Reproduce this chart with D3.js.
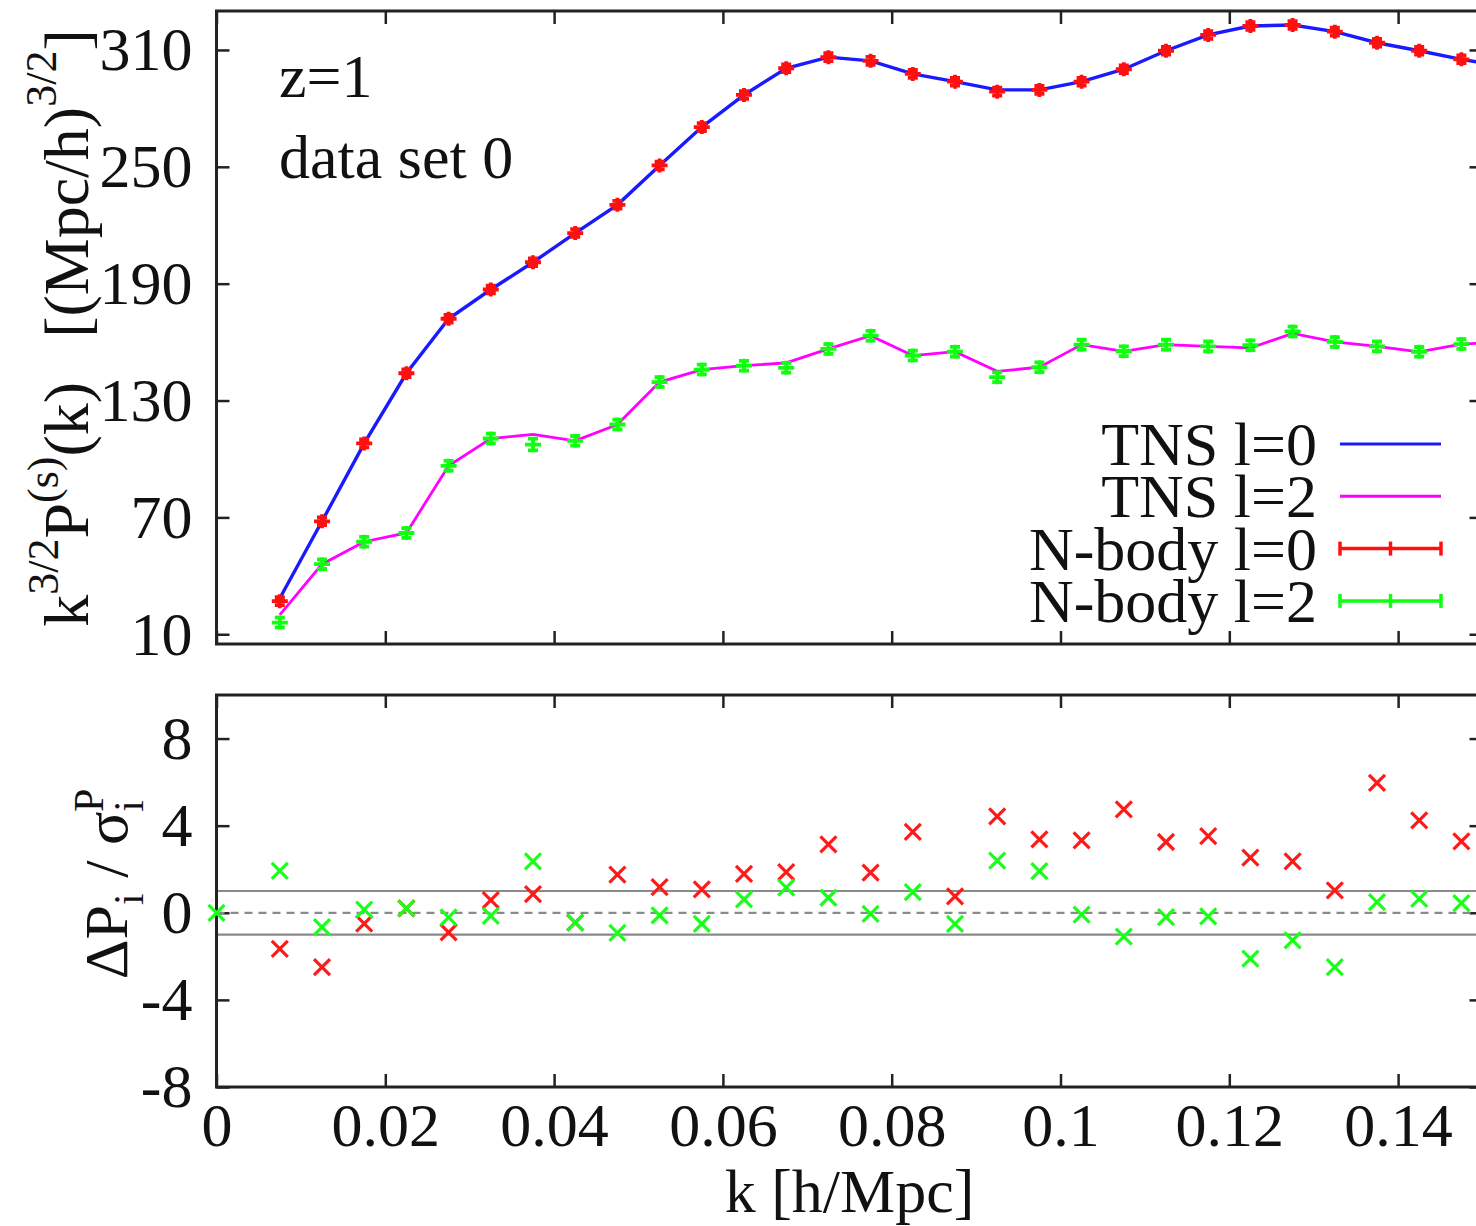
<!DOCTYPE html>
<html>
<head>
<meta charset="utf-8">
<script src="https://cdn.jsdelivr.net/npm/d3@7"></script>
<style>
  body { margin: 0; background: #fff; }
  svg { background: #fff; }
  svg text { font-family: "Liberation Serif", "DejaVu Serif", serif; fill: #111; }
</style>
</head>
<body>
<svg width="1476" height="1226"></svg>
<script>
// k bins (h/Mpc)
const kBins = [0.0075, 0.0125, 0.0175, 0.0225, 0.0275, 0.0325, 0.0375, 0.0425, 0.0475, 0.0525,
  0.0575, 0.0625, 0.0675, 0.0725, 0.0775, 0.0825, 0.0875, 0.0925, 0.0975, 0.1025,
  0.1075, 0.1125, 0.1175, 0.1225, 0.1275, 0.1325, 0.1375, 0.1425, 0.1475];

// TNS model, one extra bin past the right edge of the frame
const kTNS = [0.0075, 0.0125, 0.0175, 0.0225, 0.0275, 0.0325, 0.0375, 0.0425, 0.0475, 0.0525,
  0.0575, 0.0625, 0.0675, 0.0725, 0.0775, 0.0825, 0.0875, 0.0925, 0.0975, 0.1025,
  0.1075, 0.1125, 0.1175, 0.1225, 0.1275, 0.1325, 0.1375, 0.1425, 0.1475, 0.1525];
const tnsL0 = [28.5, 68, 108, 144, 172, 187, 201, 216, 230.5, 250.7,
  270.4, 286.9, 300.6, 306.3, 304.4, 297.7, 293.7, 289.5, 289.5, 293.7,
  300.1, 309.6, 317.7, 322.3, 322.8, 319.4, 313.7, 309.6, 305.2, 301.5];
const tnsL2 = [20, 46, 57.5, 62, 96.5, 110.5, 112.6, 109.3, 117.7, 139.5,
  145.9, 147.9, 149.3, 156.5, 163.3, 153.1, 155.1, 145, 147.1, 158.7,
  155.3, 158.7, 157.8, 157, 164.5, 160.1, 157.8, 155, 159, 160];

// N-body multipoles with errors
const nbodyL0 = [27, 68, 108, 144, 172, 187, 201, 216, 230.5, 250.7,
  270.4, 286.9, 300.6, 306.3, 304.4, 297.7, 293.7, 288.6, 289.5, 293.7,
  300.1, 309.6, 317.7, 322.3, 322.8, 319.4, 313.7, 309.6, 305.2];
const errL0 = [2, 2, 2, 2, 2, 2, 2, 2, 2, 2,
  2, 2, 2, 2, 2, 2, 2, 2, 2, 2,
  2, 2, 2, 2, 2, 2, 2, 2, 2];
const nbodyL2 = [16, 46, 57.5, 62, 96.5, 110.5, 107.4, 109.3, 117.7, 139.5,
  145.9, 147.9, 146.8, 156.5, 163.3, 153.1, 155.1, 142, 147.1, 158.7,
  155.3, 158.7, 157.8, 158.4, 165.5, 160.1, 157.8, 155, 159];
const errL2 = [2.5, 2.5, 2.5, 2.5, 2.5, 2.5, 3, 2.5, 2.5, 2.5,
  2.5, 2.5, 2.5, 2.5, 2.5, 2.5, 2.5, 2.5, 2.5, 2.5,
  2.5, 2.5, 2.5, 2.5, 2.5, 2.5, 2.5, 2.5, 2.5];

// residuals Delta P / sigma
const kRes = [0, 0.0075, 0.0125, 0.0175, 0.0225, 0.0275, 0.0325, 0.0375, 0.0425, 0.0475, 0.0525,
  0.0575, 0.0625, 0.0675, 0.0725, 0.0775, 0.0825, 0.0875, 0.0925, 0.0975, 0.1025,
  0.1075, 0.1125, 0.1175, 0.1225, 0.1275, 0.1325, 0.1375, 0.1425, 0.1475];
const resL0 = [null, -1.66, -2.5, -0.5, 0.2, -0.9, 0.58, 0.86, -0.45, 1.75, 1.18,
  1.07, 1.79, 1.87, 3.14, 1.84, 3.71, 0.75, 4.43, 3.37, 3.32,
  4.75, 3.25, 3.52, 2.53, 2.36, 1.03, 5.96, 4.24, 3.28];
const resL2 = [0, 1.92, -0.66, 0.14, 0.2, -0.21, -0.14, 2.36, -0.45, -0.92, -0.12,
  -0.51, 0.61, 1.15, 0.69, -0.05, 0.95, -0.51, 2.4, 1.91, -0.09,
  -1.09, -0.2, -0.17, -2.11, -1.27, -2.5, 0.49, 0.64, 0.44];

const xTicks = [0, 0.02, 0.04, 0.06, 0.08, 0.1, 0.12, 0.14];
const yTopTicks = [10, 70, 130, 190, 250, 310];
const yBotTicks = [-8, -4, 0, 4, 8];
const legendLabels = ["TNS l=0", "TNS l=2", "N-body l=0", "N-body l=2"];
const legendColors = ["#1a1aff", "#ff00ff", "#ff1010", "#10ff10"];

const svg = d3.select("svg");

const x = d3.scaleLinear().domain([0, 0.15]).range([216.5, 1482.5]);
const yTop = d3.scaleLinear().domain([5, 330]).range([644, 11]);
const yBot = d3.scaleLinear().domain([-8, 10]).range([1087, 695]);

const axisColor = "#222";
const fs = 62;

const defs = svg.append("defs");
defs.append("clipPath").attr("id", "clipTop").append("rect")
	.attr("x", x.range()[0]).attr("y", yTop.range()[1])
	.attr("width", x.range()[1] - x.range()[0]).attr("height", yTop.range()[0] - yTop.range()[1]);

function styleAxis(g) {
	g.select(".domain").remove();
	g.selectAll(".tick line").attr("stroke", axisColor).attr("stroke-width", 2.5);
	g.selectAll(".tick text").attr("font-size", fs).attr("font-family", "Liberation Serif, serif").attr("fill", "#111");
}

function frame(y) {
	const [y0, y1] = y.range();
	svg.append("rect")
		.attr("x", x.range()[0]).attr("y", y1)
		.attr("width", x.range()[1] - x.range()[0]).attr("height", y0 - y1)
		.attr("fill", "none").attr("stroke", axisColor).attr("stroke-width", 3);
}

// ---- top panel axes
svg.append("g").attr("transform", `translate(${x.range()[0]},0)`)
	.call(d3.axisLeft(yTop).tickValues(yTopTicks).tickSize(-13).tickPadding(24).tickFormat(d => String(d)))
	.call(styleAxis);
svg.append("g").attr("transform", `translate(${x.range()[1]},0)`)
	.call(d3.axisRight(yTop).tickValues(yTopTicks).tickSize(-13).tickFormat(""))
	.call(styleAxis);
svg.append("g").attr("transform", `translate(0,${yTop.range()[0]})`)
	.call(d3.axisBottom(x).tickValues(xTicks).tickSize(-13).tickFormat(""))
	.call(styleAxis);
svg.append("g").attr("transform", `translate(0,${yTop.range()[1]})`)
	.call(d3.axisTop(x).tickValues(xTicks).tickSize(-13).tickFormat(""))
	.call(styleAxis);
frame(yTop);

// ---- bottom panel axes
svg.append("g").attr("transform", `translate(${x.range()[0]},0)`)
	.call(d3.axisLeft(yBot).tickValues(yBotTicks).tickSize(-13).tickPadding(24).tickFormat(d => String(d)))
	.call(styleAxis);
svg.append("g").attr("transform", `translate(${x.range()[1]},0)`)
	.call(d3.axisRight(yBot).tickValues(yBotTicks).tickSize(-13).tickFormat(""))
	.call(styleAxis);
svg.append("g").attr("transform", `translate(0,${yBot.range()[0]})`)
	.call(d3.axisBottom(x).tickValues(xTicks).tickSize(-13).tickPadding(15)
		.tickFormat(d => d === 0 ? "0" : String(+d.toFixed(2))))
	.call(styleAxis);
svg.append("g").attr("transform", `translate(0,${yBot.range()[1]})`)
	.call(d3.axisTop(x).tickValues(xTicks).tickSize(-13).tickFormat(""))
	.call(styleAxis);

// reference lines at 0 and +-1
[-1, 1].forEach(v => {
	svg.append("line")
		.attr("x1", x.range()[0]).attr("x2", x.range()[1])
		.attr("y1", yBot(v)).attr("y2", yBot(v))
		.attr("stroke", "#8a8a8a").attr("stroke-width", 2.2);
});
svg.append("line")
	.attr("x1", x.range()[0]).attr("x2", x.range()[1])
	.attr("y1", yBot(0)).attr("y2", yBot(0))
	.attr("stroke", "#8a8a8a").attr("stroke-width", 2.2).attr("stroke-dasharray", "8,6");
frame(yBot);

// ---- TNS curves
const line = d3.line().x(d => x(d[0])).y(d => yTop(d[1]));
svg.append("path")
	.datum(kTNS.map((k, i) => [k, tnsL2[i]]))
	.attr("clip-path", "url(#clipTop)")
	.attr("d", line).attr("fill", "none").attr("stroke", "#ff00ff").attr("stroke-width", 2.8);
svg.append("path")
	.datum(kTNS.map((k, i) => [k, tnsL0[i]]))
	.attr("clip-path", "url(#clipTop)")
	.attr("d", line).attr("fill", "none").attr("stroke", "#1a1aff").attr("stroke-width", 3.4);

// ---- N-body points with error bars
function errPoints(vals, errs, color) {
	const g = svg.append("g").attr("stroke", color).attr("stroke-width", 3.8).attr("fill", "none");
	const pts = g.selectAll("g")
		.data(kBins.map((k, i) => ({ k, v: vals[i], e: errs[i] })))
		.enter().append("g")
		.attr("transform", d => `translate(${x(d.k)},${yTop(d.v)})`);
	pts.append("path").attr("d", d => {
		const h = yTop(d.v - d.e) - yTop(d.v);
		return `M0,${-h}V${h}M-5,${-h}H5M-5,${h}H5M-8,0H8M0,-7V7`;
	});
}
errPoints(nbodyL0, errL0, "#ff1010");
errPoints(nbodyL2, errL2, "#10ff10");

// ---- residual crosses
function crosses(vals, color) {
	svg.append("g").attr("stroke", color).attr("stroke-width", 3.2).attr("fill", "none")
		.selectAll("path")
		.data(kRes.map((k, i) => ({ k, v: vals[i] })).filter(d => d.v !== null))
		.enter().append("path")
		.attr("transform", d => `translate(${x(d.k)},${yBot(d.v)})`)
		.attr("d", "M-8,-8L8,8M-8,8L8,-8");
}
crosses(resL0, "#ff1a1a");
crosses(resL2, "#1aff1a");

// ---- legend
const legend = svg.append("g");
legendLabels.forEach((lab, i) => {
	const base = 465 + i * 52.3;
	legend.append("text").attr("x", 1317).attr("y", base)
		.attr("text-anchor", "end").attr("font-size", fs).text(lab);
	const ly = base - 21;
	legend.append("line").attr("x1", 1340).attr("x2", 1441).attr("y1", ly).attr("y2", ly)
		.attr("stroke", legendColors[i]).attr("stroke-width", i < 2 ? 3 : 3.5);
	if (i >= 2) {
		[1340, 1390.5, 1441].forEach(cx => {
			legend.append("line").attr("x1", cx).attr("x2", cx).attr("y1", ly - 7).attr("y2", ly + 7)
				.attr("stroke", legendColors[i]).attr("stroke-width", 3.5);
		});
	}
});

// ---- annotations
svg.append("text").attr("x", 279).attr("y", 97).attr("font-size", fs).text("z=1");
svg.append("text").attr("x", 279).attr("y", 178).attr("font-size", fs).text("data set 0");

// ---- axis titles
svg.append("text").attr("x", 849.5).attr("y", 1212).attr("text-anchor", "middle")
	.attr("font-size", fs).text("k [h/Mpc]");

const tTop = svg.append("text")
	.attr("transform", "translate(88,328) rotate(-90)")
	.attr("text-anchor", "middle").attr("font-size", 64);
tTop.append("tspan").text("k");
tTop.append("tspan").attr("font-size", 44).attr("dy", -30).text("3/2");
tTop.append("tspan").attr("dy", 30).text("P");
tTop.append("tspan").attr("font-size", 44).attr("dy", -30).text("(s)");
tTop.append("tspan").attr("dy", 30).text("(k)");
tTop.append("tspan").attr("dx", 44).text("[(Mpc/h)");
tTop.append("tspan").attr("font-size", 44).attr("dy", -32).text("3/2");
tTop.append("tspan").attr("dy", 32).text("]");

const tBot = svg.append("text")
	.attr("transform", "translate(127,884) rotate(-90)")
	.attr("text-anchor", "middle").attr("font-size", fs);
tBot.append("tspan").text("ΔP");
tBot.append("tspan").attr("font-size", 42).attr("dy", 16).text("i");
tBot.append("tspan").attr("dy", -16).text(" / σ");
tBot.append("tspan").attr("font-size", 42).attr("dy", 16).text("i");
tBot.append("tspan").attr("font-size", 42).attr("dx", -12).attr("dy", -40).text("P");
</script>
</body>
</html>
